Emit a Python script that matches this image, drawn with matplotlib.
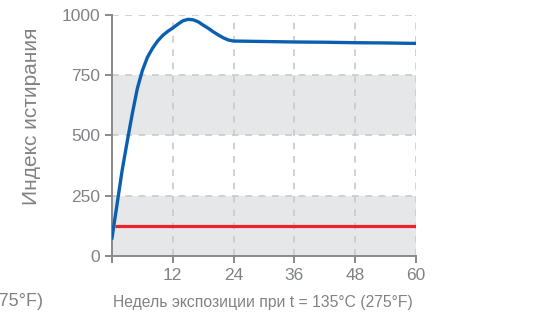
import matplotlib
matplotlib.use("Agg")
import matplotlib.pyplot as plt

plt.rcParams['font.family'] = ['Liberation Sans', 'DejaVu Sans']

# data
weeks = [0, 1, 2, 3, 4, 5, 6, 7, 8, 9, 10, 11, 12, 13, 14, 15, 16, 17, 18, 19, 20, 21, 22, 23, 24, 30, 36, 42, 48, 54, 60]
index_blue = [75, 215, 355, 475, 590, 695, 770, 825, 862, 892, 915, 932, 946, 962, 976, 982, 980, 972, 958, 945, 930, 917, 905, 896, 892, 890, 888, 887, 885, 884, 882]
red_weeks = [0.5, 60]
index_red = [125, 125]

x_ticks = [0, 12, 24, 36, 48, 60]
x_labels = ['', '12', '24', '36', '48', '60']
y_ticks = [0, 250, 500, 750, 1000]
bands = [(0, 250), (500, 750)]

xlabel = "Недель экспозиции при t = 135°C (275°F)"
ylabel = "Индекс истирания"

text_col = '#808285'
fig = plt.figure(figsize=(5.39, 3.18), dpi=100)
ax = fig.add_axes([112/539, 62/318, 304/539, 241/318])

for lo, hi in bands:
    ax.axhspan(lo, hi, color='#e6e7e9', lw=0, zorder=0)

for x in x_ticks[1:]:
    ax.axvline(x, color='#c9c9c9', lw=1.2, ls=(0, (4, 4)), zorder=1)
for y in y_ticks[1:]:
    ax.axhline(y, color='#c9c9c9', lw=1.2, ls=(0, (4, 4)), zorder=1)

ax.plot(red_weeks, index_red, color='#e8232b', lw=2.3, zorder=3, solid_capstyle='butt')
ax.plot(weeks, index_blue, color='#0b5fb0', lw=2.4, zorder=4, solid_joinstyle='round')

ax.set_xlim(0, 60)
ax.set_ylim(0, 1000)
ax.set_xticks(x_ticks)
ax.set_xticklabels(x_labels)
ax.set_yticks(y_ticks)

for s in ['top', 'right']:
    ax.spines[s].set_visible(False)
for s in ['left', 'bottom']:
    ax.spines[s].set_color('#8a8a8a')
    ax.spines[s].set_linewidth(1.4)
ax.tick_params(colors='#8a8a8a', labelcolor=text_col, labelsize=12.5, width=1.4, length=5)
ax.tick_params(axis='x', pad=4)

fig.text(263/539, 1 - 302/318, xlabel, color=text_col, fontsize=11.3, ha='center', va='center')
fig.text(32/539, 1 - 116/318, ylabel, color=text_col, fontsize=15, rotation=90,
         ha='center', va='center')

# leftover label of the neighbouring chart, cut at the left edge
fig.text(43/539, 1 - 302/318, xlabel, color=text_col, fontsize=13, ha='right', va='center')

fig.savefig("out.png", dpi=100)
